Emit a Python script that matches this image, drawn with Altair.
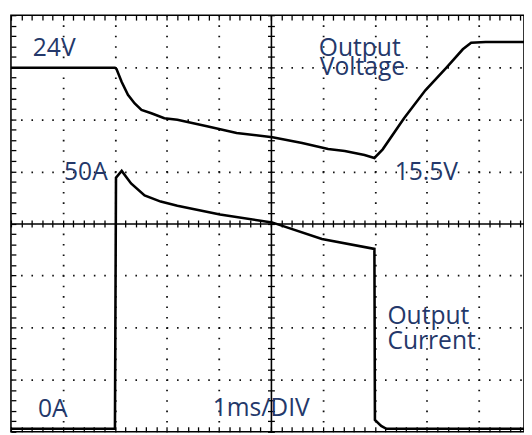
import altair as alt
import pandas as pd
import numpy as np

# ---- Output voltage trace: time (ms), volts ----
v_time = [0.0, 1.0, 2.0, 2.03, 2.13, 2.25, 2.38, 2.51, 2.70, 2.95, 3.20, 3.77, 4.34,
          5.03, 5.60, 6.10, 6.42, 6.80, 6.99, 7.15, 7.56, 7.97, 8.38, 8.69, 8.85, 9.13, 9.87]
v_volts = [24.0, 24.0, 24.0, 23.89, 22.63, 21.40, 20.57, 19.95, 19.63, 19.15, 19.0, 18.37, 17.73,
           17.32, 16.78, 16.19, 16.0, 15.62, 15.33, 16.16, 19.15, 21.84, 24.05, 25.78, 26.41, 26.48, 26.48]

# ---- Output current trace: time (ms), amps ----
i_time = [0.0, 1.0, 2.0, 2.02, 2.13, 2.31, 2.57, 2.88, 3.20, 4.02, 5.02, 5.98, 6.99, 7.0, 7.12, 7.22, 9.87]
i_amps = [0.0, 0.0, 0.0, 48.3, 49.6, 47.2, 44.9, 43.7, 42.9, 41.2, 39.7, 36.5, 34.6, 1.7, 0.57, 0.0, 0.0]

# ---- Annotation texts (x in ms, y in screen divisions from bottom) ----
label_text = ["24V", "Output", "Voltage", "50A", "15.5V", "0A", "1ms/DIV", "Output", "Current"]
label_x = [0.42, 5.92, 5.94, 1.02, 7.38, 0.52, 3.88, 7.24, 7.24]
label_y = [7.225, 7.219, 6.856, 4.836, 4.836, 0.284, 0.293, 2.061, 1.589]

# scope settings
x_domain = [0, 9.867]          # 1 ms / div
volt_domain = [-11.0, 29.06]   # 5 V / div
amp_domain = [-0.56, 79.55]    # 10 A / div
div_domain = [0, 8]

W, H = 521, 423
px_div_x = W / x_domain[1]
px_div_y = H / 8

volt_df = pd.DataFrame({"t": v_time, "v": v_volts})
amp_df = pd.DataFrame({"t": i_time, "i": i_amps})
lab_df = pd.DataFrame({"text": label_text, "x": label_x, "y": label_y})

minor_x = [round(v, 1) for v in np.arange(0, 9.81, 0.2)]
minor_y = [round(v, 1) for v in np.arange(0, 8.01, 0.2)]

xs = alt.Scale(domain=x_domain, nice=False, zero=False)


def ds():
    return alt.Scale(domain=div_domain, nice=False, zero=False)


def ax(orient, offset=0, values=None, tick=0, domain=False, grid=False, dash=None, dash_offset=0.0):
    kw = dict(orient=orient, offset=offset, labels=False, title=None,
              domain=domain, ticks=tick > 0, grid=grid)
    if values is not None:
        kw["values"] = values
    if tick > 0:
        kw.update(tickSize=tick, tickColor="black", tickWidth=1.3)
    if domain:
        kw.update(domainColor="black", domainWidth=1.6)
    if grid:
        kw.update(gridColor="#111111", gridWidth=1.8, gridDash=dash, gridDashOffset=dash_offset)
    return alt.Axis(**kw)


step_y = 0.2 * px_div_y
step_x = 0.2 * px_div_x

voltage = alt.Chart(volt_df).mark_line(color="black", strokeWidth=2.6).encode(
    x=alt.X("t:Q", scale=xs, axis=ax("top", offset=-5, values=minor_x, tick=5)),
    y=alt.Y("v:Q", scale=alt.Scale(domain=volt_domain, nice=False, zero=False), axis=None),
)

current = alt.Chart(amp_df).mark_line(color="black", strokeWidth=2.6).encode(
    x=alt.X("t:Q", scale=xs, axis=ax("bottom", offset=-5, values=minor_x, tick=5)),
    y=alt.Y("i:Q", scale=alt.Scale(domain=amp_domain, nice=False, zero=False), axis=None),
)

labels = alt.Chart(lab_df).mark_text(
    align="left", baseline="alphabetic", font="Open Sans", fontSize=25,
    fontWeight="normal", color="#24386a",
).encode(
    x=alt.X("x:Q", scale=xs, axis=ax("bottom", values=[1, 2, 3, 4, 6, 7, 8, 9], grid=True,
                                     dash=[1.6, step_y - 1.6], dash_offset=0.8)),
    y=alt.Y("y:Q", scale=ds(), axis=ax("left", values=[1, 2, 3, 5, 6, 7], grid=True,
                                       dash=[1.6, step_x - 1.6], dash_offset=0.8)),
    text="text:N",
)

center_ticks = alt.Chart(lab_df).mark_point(opacity=0).encode(
    x=alt.X("x:Q", scale=xs, axis=ax("bottom", offset=-(4 * px_div_y + 3.5), values=minor_x, tick=7)),
    y=alt.Y("y:Q", scale=ds(), axis=ax("left", offset=-(5 * px_div_x + 3.5), values=minor_y, tick=7)),
)

center_lines = alt.Chart(lab_df).mark_point(opacity=0).encode(
    x=alt.X("x:Q", scale=xs, axis=ax("bottom", offset=-(4 * px_div_y), values=[], domain=True)),
    y=alt.Y("y:Q", scale=ds(), axis=ax("left", offset=-(5 * px_div_x), values=[], domain=True)),
)

left_ticks = alt.Chart(lab_df).mark_point(opacity=0).encode(
    x=alt.X("x:Q", scale=xs, axis=None),
    y=alt.Y("y:Q", scale=ds(), axis=ax("left", offset=-5, values=minor_y, tick=5)),
)

chart = alt.layer(
    labels, center_ticks, center_lines, left_ticks, voltage, current
).resolve_scale(y="independent").resolve_axis(x="independent", y="independent").properties(
    width=W, height=H,
    padding={"left": 3, "top": 4, "right": 0, "bottom": 0},
    autosize=alt.AutoSizeParams(type="none"),
    background="white",
).configure_view(stroke="black", strokeWidth=1.6)

chart.save("out.html", embed_options={"renderer": "svg", "actions": False})
